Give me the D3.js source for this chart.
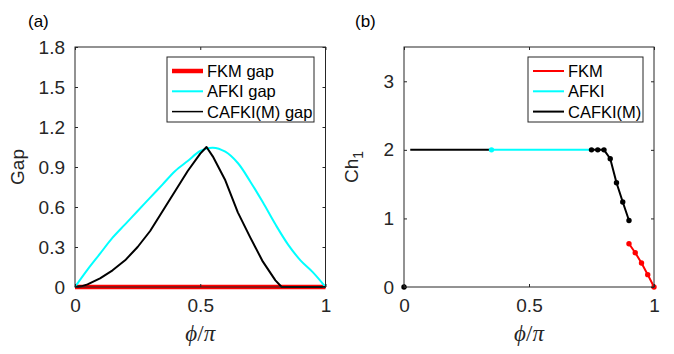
<!DOCTYPE html>
<html>
<head>
<meta charset="utf-8">
<script src="https://cdn.jsdelivr.net/npm/d3@7"></script>
<style>
  body { margin: 0; background: #fff; }
  svg { font-family: "Liberation Sans", Arial, sans-serif; }
</style>
</head>
<body>
<div id="chart"></div>
<script>
// panel (a): gap vs phi/pi
var phiCyan = [0, 0.05, 0.1, 0.15, 0.2, 0.25, 0.3, 0.35, 0.4, 0.45, 0.5, 0.55, 0.6, 0.65, 0.7, 0.75, 0.8, 0.85, 0.9, 0.95, 1.0];
var gapAFKI = [0, 0.13, 0.25, 0.37, 0.47, 0.57, 0.67, 0.77, 0.87, 0.945, 1.02, 1.045, 1.015, 0.93, 0.79, 0.635, 0.47, 0.32, 0.2, 0.11, 0];
var phiBlack = [0, 0.025, 0.05, 0.1, 0.15, 0.2, 0.25, 0.3, 0.35, 0.4, 0.45, 0.5, 0.525, 0.55, 0.6, 0.65, 0.7, 0.75, 0.8, 0.825, 0.9, 1.0];
var gapCAFKI = [0, 0.005, 0.02, 0.065, 0.125, 0.2, 0.3, 0.42, 0.57, 0.72, 0.87, 1.0, 1.05, 0.98, 0.8, 0.56, 0.37, 0.19, 0.05, 0, 0, 0];
var phiRed = [0, 1];
var gapFKM = [0, 0];

// panel (b): Chern number vs phi/pi
var chZeroPhi = [0], chZeroVal = [0];
var chBlackFlatPhi = [0.025, 0.35], chBlackFlatVal = [2, 2];
var chCyanPhi = [0.35, 0.75], chCyanVal = [2, 2];
var chBlackPhi = [0.75, 0.775, 0.8, 0.825, 0.85, 0.875, 0.9];
var chBlackVal = [2, 2, 2, 1.87, 1.52, 1.24, 0.97];
var chRedPhi = [0.9, 0.925, 0.95, 0.975, 1.0];
var chRedVal = [0.63, 0.5, 0.35, 0.18, 0];

var gapTicks = [0, 0.3, 0.6, 0.9, 1.2, 1.5, 1.8];
var chTicks = [0, 1, 2, 3];
var phiTicks = [0, 0.5, 1];

var legendA = ["FKM gap", "AFKI gap", "CAFKI(M) gap"];
var legendB = ["FKM", "AFKI", "CAFKI(M)"];

var RED = "#ff0000", CYAN = "#00ffff", BLACK = "#000000", AX = "#262626";

function zip(xs, ys) { return xs.map(function(x, i){ return [x, ys[i]]; }); }

var svg = d3.select("#chart").append("svg")
  .attr("width", 674).attr("height", 354);

function panel(opt) {
  var x = d3.scaleLinear().domain([0, 1]).range([opt.left, opt.right]);
  var y = d3.scaleLinear().domain(opt.ydom).range([287, 47]);
  var g = svg.append("g");

  // series
  opt.series.forEach(function(s) {
    var pts = zip(s.x, s.y);
    var line = d3.line().x(function(d){ return x(d[0]); }).y(function(d){ return y(d[1]); })
      .curve(s.smooth ? d3.curveCatmullRom.alpha(0.5) : d3.curveLinear);
    if (pts.length > 1) {
      g.append("path").attr("d", line(pts)).attr("fill", "none")
        .attr("stroke", s.color).attr("stroke-width", s.width)
        .attr("stroke-linejoin", "round");
    }
    if (s.dots) {
      g.selectAll(null).data(s.dots === true ? pts : s.dots).enter().append("circle")
        .attr("cx", function(d){ return x(d[0]); })
        .attr("cy", function(d){ return y(d[1]); })
        .attr("r", 2.7).attr("fill", s.color);
    }
  });

  // box + inward ticks
  g.append("rect").attr("x", opt.left).attr("y", 47)
    .attr("width", opt.right - opt.left).attr("height", 240)
    .attr("fill", "none").attr("stroke", AX).attr("stroke-width", 1);

  g.append("g").attr("transform", "translate(0,287)")
    .call(d3.axisBottom(x).tickValues(phiTicks).tickSizeInner(-3).tickSizeOuter(0).tickPadding(12).tickFormat(d3.format("")))
    .call(function(a){ a.select(".domain").remove(); a.selectAll("line").attr("stroke", AX);
      a.selectAll("text").attr("font-size", 19).attr("fill", AX).attr("font-family", "Liberation Sans, Arial"); });
  g.append("g").attr("transform", "translate(0,47)")
    .call(d3.axisTop(x).tickValues(phiTicks).tickSizeInner(-3).tickSizeOuter(0).tickFormat(""))
    .call(function(a){ a.select(".domain").remove(); a.selectAll("line").attr("stroke", AX); });
  g.append("g").attr("transform", "translate(" + opt.left + ",0)")
    .call(d3.axisLeft(y).tickValues(opt.yticks).tickSizeInner(-3).tickSizeOuter(0).tickPadding(10).tickFormat(opt.yfmt))
    .call(function(a){ a.select(".domain").remove(); a.selectAll("line").attr("stroke", AX);
      a.selectAll("text").attr("font-size", 19).attr("fill", AX).attr("font-family", "Liberation Sans, Arial"); });
  g.append("g").attr("transform", "translate(" + opt.right + ",0)")
    .call(d3.axisRight(y).tickValues(opt.yticks).tickSizeInner(-3).tickSizeOuter(0).tickFormat(""))
    .call(function(a){ a.select(".domain").remove(); a.selectAll("line").attr("stroke", AX); });

  // x label phi/pi
  var xl = g.append("text").attr("x", (opt.left + opt.right) / 2).attr("y", 341)
    .attr("text-anchor", "middle").attr("font-family", "Liberation Serif, DejaVu Serif, serif")
    .attr("font-style", "italic").attr("font-size", 23).attr("fill", AX);
  xl.append("tspan").text("\u03d5");
  xl.append("tspan").attr("font-style", "normal").text("/");
  xl.append("tspan").text("\u03c0");

  // y label
  var yl = g.append("text").attr("transform", "translate(" + opt.ylx + ",167) rotate(-90)")
    .attr("text-anchor", "middle").attr("font-size", 19).attr("fill", AX);
  yl.append("tspan").text(opt.ylabel);
  if (opt.ysub) yl.append("tspan").attr("font-size", 14).attr("dy", 5).text(opt.ysub);

  // panel tag
  g.append("text").attr("x", opt.tagx).attr("y", 27).attr("font-size", 17).attr("fill", BLACK).text(opt.tag);

  // legend
  var L = opt.legend;
  g.append("rect").attr("x", L.x).attr("y", 57).attr("width", L.w).attr("height", 65)
    .attr("fill", "#fff").attr("stroke", AX).attr("stroke-width", 1);
  var rows = g.selectAll(null).data(L.items).enter().append("g")
    .attr("transform", function(d, i){ return "translate(" + L.x + "," + (71 + i * 20.3) + ")"; });
  rows.append("line").attr("x1", 5).attr("x2", 36).attr("y1", 0).attr("y2", 0)
    .attr("stroke", function(d){ return d.color; }).attr("stroke-width", function(d){ return d.lw; });
  rows.append("text").attr("x", 40).attr("y", 6).attr("font-size", 16.5).attr("fill", BLACK)
    .text(function(d){ return d.label; });
}

panel({
  left: 75, right: 325.5, ydom: [0, 1.8], yticks: gapTicks, yfmt: d3.format(""),
  ylabel: "Gap", ylx: 24, tag: "(a)", tagx: 28,
  series: [
    { x: phiRed, y: gapFKM, color: RED, width: 4.5 },
    { x: phiCyan, y: gapAFKI, color: CYAN, width: 2, smooth: true },
    { x: phiBlack, y: gapCAFKI, color: BLACK, width: 2 }
  ],
  legend: { x: 167, w: 147, items: [
    { label: legendA[0], color: RED, lw: 4.5 },
    { label: legendA[1], color: CYAN, lw: 2 },
    { label: legendA[2], color: BLACK, lw: 1.5 }
  ] }
});

panel({
  left: 404, right: 654, ydom: [0, 3.5], yticks: chTicks, yfmt: d3.format("d"),
  ylabel: "Ch", ysub: "1", ylx: 358, tag: "(b)", tagx: 355,
  series: [
    { x: chZeroPhi, y: chZeroVal, color: BLACK, width: 2, dots: true },
    { x: chBlackFlatPhi, y: chBlackFlatVal, color: BLACK, width: 2 },
    { x: chCyanPhi, y: chCyanVal, color: CYAN, width: 2, dots: [[chCyanPhi[0], chCyanVal[0]]] },
    { x: chBlackPhi, y: chBlackVal, color: BLACK, width: 2, dots: true },
    { x: chRedPhi, y: chRedVal, color: RED, width: 2, dots: true }
  ],
  legend: { x: 528, w: 115, items: [
    { label: legendB[0], color: RED, lw: 2 },
    { label: legendB[1], color: CYAN, lw: 2 },
    { label: legendB[2], color: BLACK, lw: 2 }
  ] }
});
</script>
</body>
</html>
